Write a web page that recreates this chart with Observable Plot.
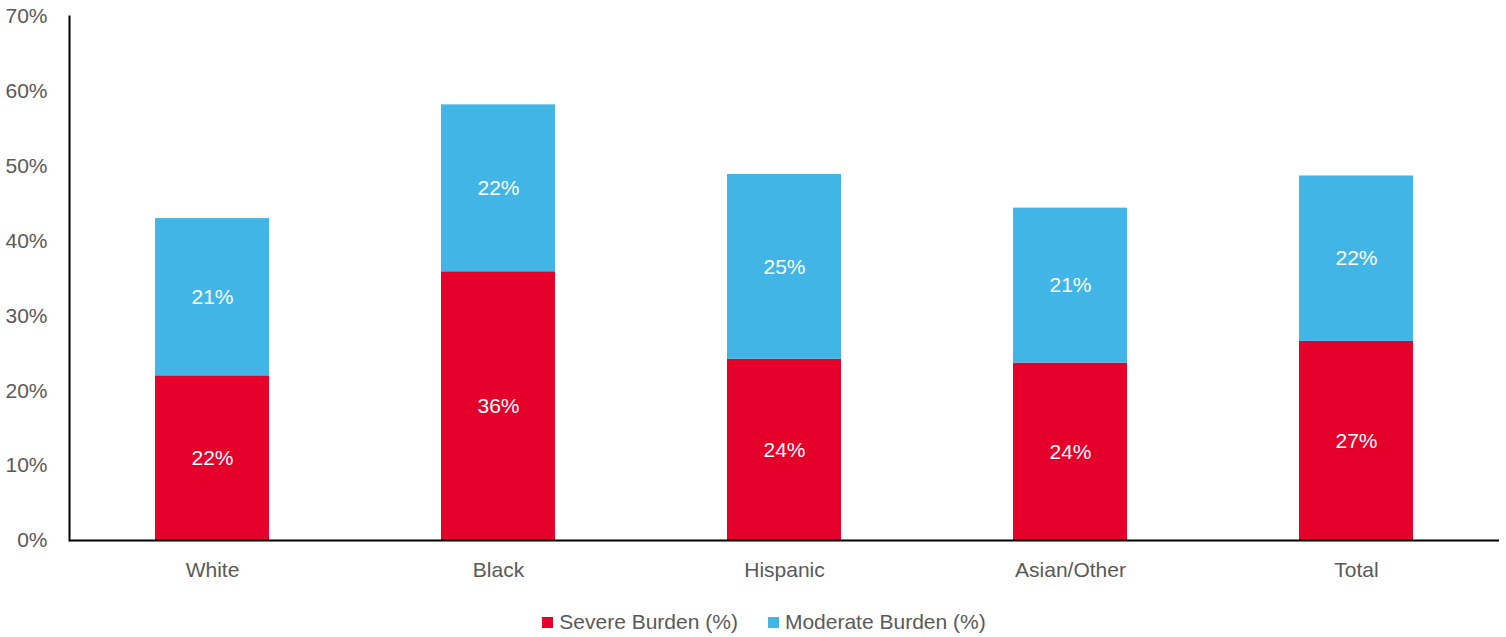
<!DOCTYPE html>
<html>
<head>
<meta charset="utf-8">
<script src="https://cdn.jsdelivr.net/npm/d3@7"></script>
<script src="https://cdn.jsdelivr.net/npm/@observablehq/plot@0.6"></script>
<style>
  body { margin: 0; background: #fff; font-family: "Liberation Sans", Arial, sans-serif; }
  #legend { display: flex; justify-content: center; gap: 30px; padding-left: 22px; margin-top: 10px; font-size: 21px; color: #595959; }
  #legend span.sw { display: inline-block; width: 11px; height: 11px; margin-right: 6px; }
  #legend .item { display: flex; align-items: center; }
</style>
</head>
<body>
<div id="chart"></div>
<div id="legend"></div>
<script>
const categories = ["White", "Black", "Hispanic", "Asian/Other", "Total"];
const severe = [22, 35.9, 24.2, 23.7, 26.6];
const moderate = [21, 22.3, 24.7, 20.7, 22.1];
const severeLabels = ["22%", "36%", "24%", "24%", "27%"];
const moderateLabels = ["21%", "22%", "25%", "21%", "22%"];
const seriesNames = ["Severe Burden (%)", "Moderate Burden (%)"];
const seriesColors = ["#E4002B", "#41B6E6"];
const yTicks = [0, 10, 20, 30, 40, 50, 60, 70];

const data = [];
categories.forEach((c, i) => {
  data.push({cat: c, series: seriesNames[0], value: severe[i], label: severeLabels[i]});
  data.push({cat: c, series: seriesNames[1], value: moderate[i], label: moderateLabels[i]});
});

const font = '"Liberation Sans", Arial, sans-serif';

const chart = Plot.plot({
  width: 1506,
  height: 600,
  marginLeft: 69,
  marginRight: 7,
  marginTop: 16,
  marginBottom: 60,
  style: {fontFamily: font, fontSize: "21px", color: "#595959", background: "#fff"},
  x: {domain: categories, paddingInner: 0.6, paddingOuter: 0.3, label: null},
  y: {domain: [0, 70], label: null},
  color: {domain: seriesNames, range: seriesColors},
  marks: [
    Plot.barY(data, Plot.stackY({x: "cat", y: "value", z: "series", fill: "series", order: seriesNames})),
    Plot.text(data, Plot.stackY({x: "cat", y: "value", z: "series", text: "label", order: seriesNames, fill: "white", fontSize: 21})),
    Plot.axisY({ticks: yTicks, tickSize: 0, tickPadding: 22, tickFormat: d => d + "%", fill: "#595959", fontSize: 21, label: null}),
    Plot.axisX({tickSize: 0, tickPadding: 22, fill: "#595959", fontSize: 21, label: null}),
    Plot.ruleY([0], {stroke: "#000", strokeWidth: 2}),
    Plot.frame({anchor: "left", stroke: "#000", strokeWidth: 2})
  ]
});
document.getElementById("chart").appendChild(chart);

const legend = document.getElementById("legend");
seriesNames.forEach((s, i) => {
  const item = document.createElement("div");
  item.className = "item";
  item.innerHTML = `<span class="sw" style="background:${seriesColors[i]}"></span>${s}`;
  legend.appendChild(item);
});
</script>
</body>
</html>
